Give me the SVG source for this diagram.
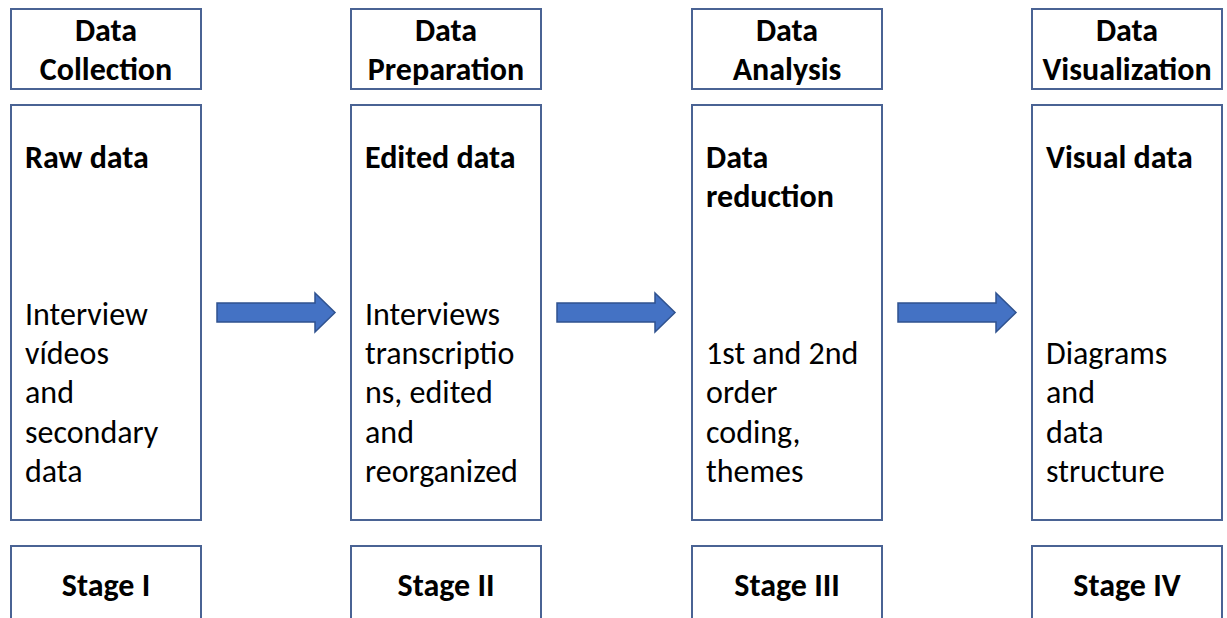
<svg xmlns="http://www.w3.org/2000/svg" width="1227" height="618" viewBox="0 0 1227 618">
  <style>
    .box { fill: #ffffff; stroke: #4a6394; stroke-width: 2; }
    .t { font-family: Carlito, Calibri, Lato, "Liberation Sans", sans-serif; font-size: 32px; fill: #000000; }
    .b { font-weight: bold; }
    .c { text-anchor: middle; }
    .arrow { fill: #4472c4; stroke: #2f528f; stroke-width: 1.5; }
  </style>
  <defs>
    <path id="blockArrow" d="M0,-9.5 H98 V-19.5 L118,0 L98,19.5 V9.5 H0 Z" />
  </defs>
  <rect width="1227" height="618" fill="#ffffff"/>

  <!-- Stage I -->
  <g id="collection">
    <rect class="box" x="11" y="9" width="190" height="80"/>
    <text class="t b c" x="106" y="41">Data</text>
    <text class="t b c" x="106" y="80">Collection</text>
  </g>
  <g id="raw-data">
    <rect class="box" x="11" y="105" width="190" height="415"/>
    <text class="t b" x="25" y="168">Raw data</text>
    <text class="t" x="25" y="325">Interview</text>
    <text class="t" x="25" y="364">vídeos</text>
    <text class="t" x="25" y="403">and</text>
    <text class="t" x="25" y="443">secondary</text>
    <text class="t" x="25" y="482">data</text>
  </g>
  <g id="stage-1">
    <rect class="box" x="11" y="546" width="190" height="90"/>
    <text class="t b c" x="106" y="596">Stage I</text>
  </g>

  <!-- Stage II -->
  <g id="preparation">
    <rect class="box" x="351" y="9" width="190" height="80"/>
    <text class="t b c" x="446" y="41">Data</text>
    <text class="t b c" x="446" y="80">Preparation</text>
  </g>
  <g id="edited-data">
    <rect class="box" x="351" y="105" width="190" height="415"/>
    <text class="t b" x="365" y="168">Edited data</text>
    <text class="t" x="365" y="325">Interviews</text>
    <text class="t" x="365" y="364">transcriptio</text>
    <text class="t" x="365" y="403">ns, edited</text>
    <text class="t" x="365" y="443">and</text>
    <text class="t" x="365" y="482">reorganized</text>
  </g>
  <g id="stage-2">
    <rect class="box" x="351" y="546" width="190" height="90"/>
    <text class="t b c" x="446" y="596">Stage II</text>
  </g>

  <!-- Stage III -->
  <g id="analysis">
    <rect class="box" x="692" y="9" width="190" height="80"/>
    <text class="t b c" x="787" y="41">Data</text>
    <text class="t b c" x="787" y="80">Analysis</text>
  </g>
  <g id="data-reduction">
    <rect class="box" x="692" y="105" width="190" height="415"/>
    <text class="t b" x="706" y="168">Data</text>
    <text class="t b" x="706" y="207">reduction</text>
    <text class="t" x="706" y="364">1st and 2nd</text>
    <text class="t" x="706" y="403">order</text>
    <text class="t" x="706" y="443">coding,</text>
    <text class="t" x="706" y="482">themes</text>
  </g>
  <g id="stage-3">
    <rect class="box" x="692" y="546" width="190" height="90"/>
    <text class="t b c" x="787" y="596">Stage III</text>
  </g>

  <!-- Stage IV -->
  <g id="visualization">
    <rect class="box" x="1032" y="9" width="190" height="80"/>
    <text class="t b c" x="1127" y="41">Data</text>
    <text class="t b c" x="1127" y="80">Visualization</text>
  </g>
  <g id="visual-data">
    <rect class="box" x="1032" y="105" width="190" height="415"/>
    <text class="t b" x="1046" y="168">Visual data</text>
    <text class="t" x="1046" y="364">Diagrams</text>
    <text class="t" x="1046" y="403">and</text>
    <text class="t" x="1046" y="443">data</text>
    <text class="t" x="1046" y="482">structure</text>
  </g>
  <g id="stage-4">
    <rect class="box" x="1032" y="546" width="190" height="90"/>
    <text class="t b c" x="1127" y="596">Stage IV</text>
  </g>

  <!-- Block arrows between the stages -->
  <g id="connectors">
    <use href="#blockArrow" class="arrow" transform="translate(217,312.5)"/>
    <use href="#blockArrow" class="arrow" transform="translate(557,312.5)"/>
    <use href="#blockArrow" class="arrow" transform="translate(898,312.5)"/>
  </g>
</svg>
